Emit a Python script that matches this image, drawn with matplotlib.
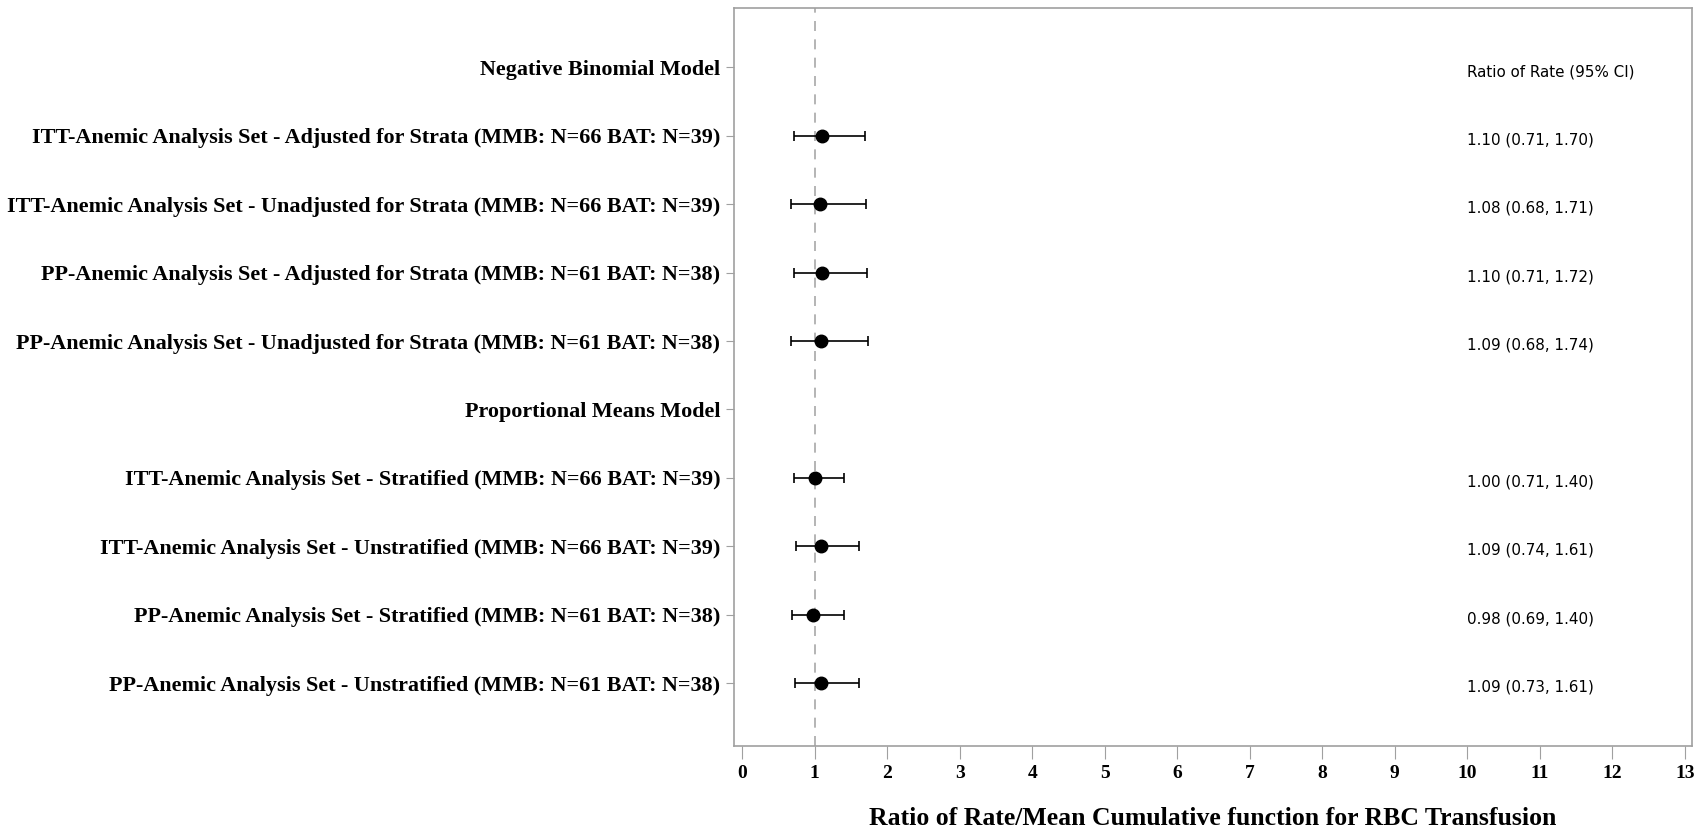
import matplotlib.pyplot as plt

# Forest plot of rate ratios for RBC transfusion
labels = [
    "Negative Binomial Model",
    "ITT-Anemic Analysis Set - Adjusted for Strata (MMB: N=66 BAT: N=39)",
    "ITT-Anemic Analysis Set - Unadjusted for Strata (MMB: N=66 BAT: N=39)",
    "PP-Anemic Analysis Set - Adjusted for Strata (MMB: N=61 BAT: N=38)",
    "PP-Anemic Analysis Set - Unadjusted for Strata (MMB: N=61 BAT: N=38)",
    "Proportional Means Model",
    "ITT-Anemic Analysis Set - Stratified (MMB: N=66 BAT: N=39)",
    "ITT-Anemic Analysis Set - Unstratified (MMB: N=66 BAT: N=39)",
    "PP-Anemic Analysis Set - Stratified (MMB: N=61 BAT: N=38)",
    "PP-Anemic Analysis Set - Unstratified (MMB: N=61 BAT: N=38)",
]
# None for the header rows
estimate = [None, 1.10, 1.08, 1.10, 1.09, None, 1.00, 1.09, 0.98, 1.09]
lower = [None, 0.71, 0.68, 0.71, 0.68, None, 0.71, 0.74, 0.69, 0.73]
upper = [None, 1.70, 1.71, 1.72, 1.74, None, 1.40, 1.61, 1.40, 1.61]
xticks = list(range(0, 14))

serif_bold = dict(family="Liberation Serif", weight="bold")
frame_col = "#a0a0a0"

fig = plt.figure(figsize=(17.06, 8.32), dpi=100)
ax = fig.add_axes([0.4303, 0.1034, 0.5615, 0.8870])

# reference line at ratio 1
ax.axvline(1, color="#a8a8a8", linestyle=(0, (6, 5)), linewidth=1.2, zorder=1)

for i, (est, lo, hi) in enumerate(zip(estimate, lower, upper)):
    if est is None:
        continue
    ax.errorbar(est, i, xerr=[[est - lo], [hi - est]], fmt="o", color="black",
                markersize=9, elinewidth=1.2, capsize=3.5, capthick=1.2, zorder=3)
    ax.text(10, i + 0.06, f"{est:.2f} ({lo:.2f}, {hi:.2f})", fontsize=10.9,
            family="DejaVu Sans", va="center", ha="left")

ax.text(10, 0.06, "Ratio of Rate (95% CI)", fontsize=10.9, family="DejaVu Sans",
        va="center", ha="left")

ax.set_xlim(-0.11, 13.1)
ax.set_ylim(9.92, -0.87)
ax.set_xticks(xticks)
ax.set_xticklabels([str(t) for t in xticks], fontsize=14, **serif_bold)
ax.set_yticks(range(len(labels)))
ax.set_yticklabels(labels, fontsize=15.9, **serif_bold)
ax.set_xlabel("Ratio of Rate/Mean Cumulative function for RBC Transfusion",
              fontsize=18.5, labelpad=18, **serif_bold)

for s in ax.spines.values():
    s.set_color(frame_col)
    s.set_linewidth(1.2)
ax.tick_params(axis="y", length=6, color=frame_col, pad=4)
ax.tick_params(axis="x", length=9, color=frame_col, pad=5)

fig.savefig("out.png", dpi=100)
